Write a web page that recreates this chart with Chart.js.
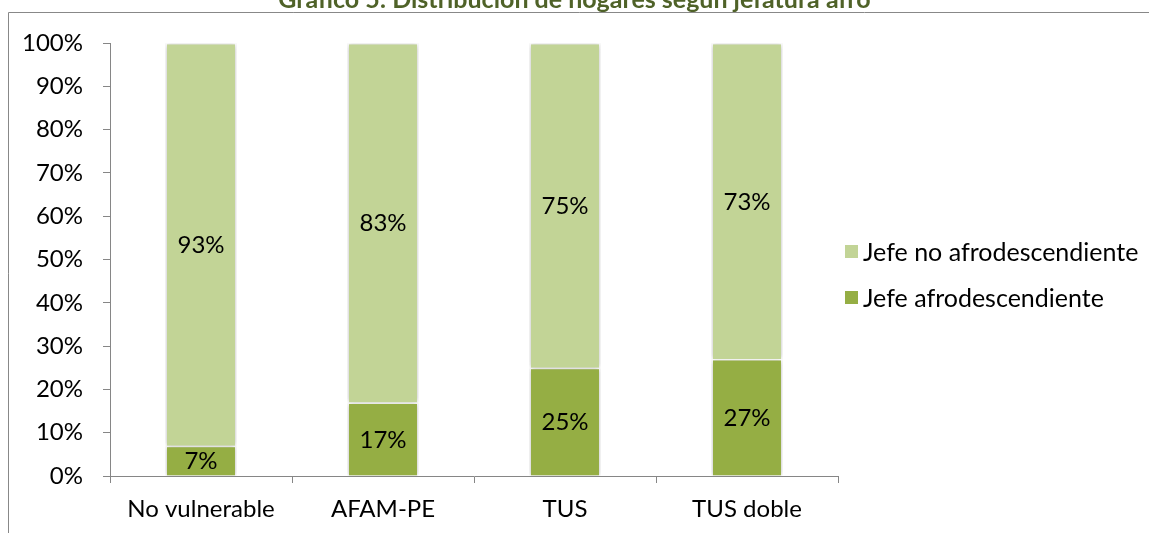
<!DOCTYPE html>
<html>
<head>
<meta charset="utf-8">
<script src="https://cdn.jsdelivr.net/npm/chart.js@4.4.1/dist/chart.umd.min.js"></script>
<style>
  html,body{margin:0;padding:0;background:#fff;overflow:hidden;}
  #wrap{position:relative;width:1149px;height:533px;overflow:hidden;}
  #title{position:absolute;left:0;width:1149px;top:-17px;text-align:center;font-family:Lato,"Open Sans",sans-serif;font-weight:bold;font-size:25px;color:#4F6228;white-space:nowrap;}
  canvas{position:absolute;left:0;top:0;}
  #legend{position:absolute;left:845px;top:228px;font-family:Lato,sans-serif;font-size:25px;color:#000;}
  .item{display:flex;align-items:center;height:46px;}
  .sw{width:13px;height:13px;margin-right:5px;}
</style>
</head>
<body>
<div id="wrap">
  <canvas id="c" width="1149" height="533"></canvas>
  <div id="title">Gráfico 5: Distribución de hogares según jefatura afro</div>
  <div id="legend"></div>
</div>
<script>
const categories = ["No vulnerable", "AFAM-PE", "TUS", "TUS doble"];
const jefeAfro = [7, 17, 25, 27];
const jefeNoAfro = [93, 83, 75, 73];
const seriesNames = ["Jefe afrodescendiente", "Jefe no afrodescendiente"];
const colors = ["#95AE44", "#C2D496"];
const yTicks = [0,10,20,30,40,50,60,70,80,90,100];

const FONT = "Lato, 'Open Sans', sans-serif";

const framePlugin = {
  id: 'frame',
  beforeDraw(chart) {
    const ctx = chart.ctx;
    ctx.save();
    ctx.strokeStyle = "#888";
    ctx.lineWidth = 1;
    ctx.beginPath();
    ctx.moveTo(8.5, chart.height + 5);
    ctx.lineTo(8.5, 12.5);
    ctx.lineTo(chart.width + 5, 12.5);
    ctx.stroke();
    ctx.restore();
  }
};

const labelPlugin = {
  id: 'segLabels',
  afterDatasetsDraw(chart) {
    const ctx = chart.ctx;
    ctx.save();
    ctx.font = "24px " + FONT;
    ctx.fillStyle = "#000";
    ctx.textAlign = "center";
    ctx.textBaseline = "middle";
    chart.data.datasets.forEach((ds, i) => {
      const meta = chart.getDatasetMeta(i);
      meta.data.forEach((bar, j) => {
        const y = (bar.y + bar.base) / 2;
        ctx.fillText(ds.data[j] + "%", bar.x, y + 1);
      });
    });
    ctx.restore();
  }
};

const shadowPlugin = {
  id: 'shadow',
  beforeDatasetsDraw(chart) {
    const ctx = chart.ctx;
    ctx.save();
    ctx.shadowColor = "rgba(0,0,0,0.28)";
    ctx.shadowBlur = 5;
    ctx.shadowOffsetX = 0;
    ctx.shadowOffsetY = 0;
  },
  afterDatasetsDraw(chart) {
    chart.ctx.restore();
  }
};

new Chart(document.getElementById('c'), {
  type: 'bar',
  data: {
    labels: categories,
    datasets: [
      { label: seriesNames[0], data: jefeAfro, backgroundColor: colors[0], borderColor: "#fff", borderWidth: 1.5 },
      { label: seriesNames[1], data: jefeNoAfro, backgroundColor: colors[1], borderColor: "#fff", borderWidth: 1.5 }
    ]
  },
  options: {
    responsive: false,
    animation: false,
    layout: { padding: { left: 0, top: 43, right: 311, bottom: 0 } },
    plugins: { legend: { display: false }, tooltip: { enabled: false } },
    datasets: { bar: { categoryPercentage: 1, barPercentage: 0.39 } },
    scales: {
      x: {
        stacked: true,
        afterFit: s => { s.height = 57; },
        grid: { display: true, offset: true, drawOnChartArea: false, tickLength: 7, color: "#868686" },
        border: { display: true, color: "#868686", width: 1 },
        ticks: { font: { family: FONT, size: 24 }, color: "#000", padding: 12 }
      },
      y: {
        stacked: true,
        min: 0, max: 100,
        afterFit: s => { s.width = 110; },
        afterBuildTicks: s => { s.ticks = yTicks.map(v => ({ value: v })); },
        grid: { display: true, drawOnChartArea: false, tickLength: 7, color: "#868686" },
        border: { display: true, color: "#868686", width: 1 },
        ticks: { font: { family: FONT, size: 24 }, color: "#000", padding: 20, callback: v => v + "%" }
      }
    }
  },
  plugins: [framePlugin, shadowPlugin, labelPlugin]
});

const leg = document.getElementById('legend');
[1, 0].forEach(i => {
  const d = document.createElement('div');
  d.className = 'item';
  d.innerHTML = '<span class="sw" style="background:' + colors[i] + '"></span><span>' + seriesNames[i] + '</span>';
  leg.appendChild(d);
});
</script>
</body>
</html>
